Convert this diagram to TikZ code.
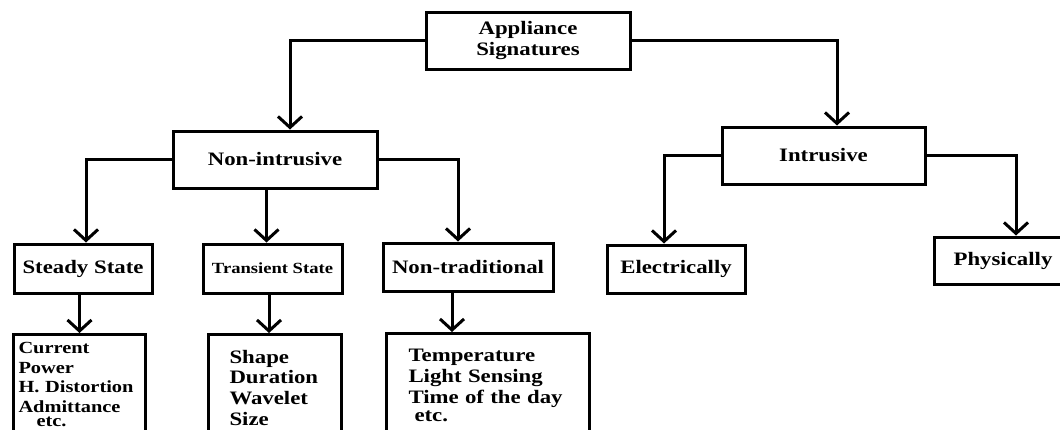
\documentclass[tikz,border=0pt]{standalone}
\usepackage{fontspec}
\setmainfont{Liberation Serif}[FakeStretch=1.2]
\usepackage{tikz}
\usetikzlibrary{arrows.meta}
\usetikzlibrary{positioning, calc}
\tikzstyle{block} = [draw,rectangle,line width=3pt,inner sep=0pt,font=\bfseries\fontsize{19}{21}\selectfont]
\tikzstyle{list} = [block,anchor=north west,align=left]
\tikzstyle{connector} = [-{Straight Barb[length=11pt,width=24pt]},line width=3pt]

\begin{document}
\begin{tikzpicture}[x=1pt,y=-1pt]
  \useasboundingbox (0,0) rectangle (1060,429);
  \fill[white] (0,0) rectangle (1060,429);
  \clip (0,0) rectangle (1060,429);

  \node[block, minimum width=204pt, minimum height=57pt, align=center] (root) at (528,40.5) {Appliance\\Signatures};

  \node[block, minimum width=204pt, minimum height=57pt] (non) at (275,159.5) {Non-intrusive};
  \node[block, minimum width=203pt, minimum height=57pt] (intr) at (823.5,155.5) {Intrusive};

  \node[block, minimum width=138pt, minimum height=49pt] (steady) at (83,268.5) {Steady State};
  \node[block, minimum width=139pt, minimum height=49pt, font=\bfseries\fontsize{15.5}{18}\selectfont] (trans) at (272.5,268.5) {Transient State};
  \node[block, minimum width=170pt, minimum height=48pt] (nontrad) at (468,267) {Non-traditional};
  \node[block, minimum width=138pt, minimum height=48pt] (elec) at (676,269) {Electrically};
  \node[block, minimum width=138pt, minimum height=47pt] (phys) at (1003,260.5) {Physically};

  \node[list, inner xsep=5pt, inner ysep=8pt, text width=122pt, font=\bfseries\fontsize{17}{19.5}\selectfont] (steady1) at (12,333) {
    Current\\Power\\H. Distortion\\Admittance\\[-5pt]\hspace*{18pt}etc.
  };

  \node[list, inner xsep=21pt, inner ysep=15.5pt, text width=91pt, font=\bfseries\fontsize{19}{20.7}\selectfont] (trans1) at (207,333) {
    Shape\\Duration\\Wavelet\\Size
  };

  \node[list, inner xsep=22pt, inner ysep=16pt, text width=159pt, font=\bfseries\fontsize{19}{21}\selectfont] (nontrad1) at (385,332) {
    Temperature\\Light Sensing\\Time of the day\\[-3pt]\hspace*{6pt}etc.
  };

% now link the nodes

\draw [connector] (root.west) -| ([xshift=15pt]non.north);
\draw [connector] (root.east) -| ([xshift=13.5pt]intr.north);
\draw [connector] (non.west) -| ([xshift=3pt]steady.north);
\draw [connector] ($(trans.north |- non.south)+(-6,0)$) -- ($(trans.north)+(-6,0)$);
\draw [connector] (non.east) -| ([xshift=-10pt]nontrad.north);
\draw [connector] (steady1.north |- steady.south) -- (steady1.north);
\draw [connector] ($(trans1.north |- trans.south)+(-6,0)$) -- ($(trans1.north)+(-6,0)$);
\draw [connector] ($(nontrad.south)+(-16,0)$) -- ($(nontrad1.north -| nontrad.south)+(-16,0)$);
\draw [connector] (intr.west) -| ([xshift=-12pt]elec.north);
\draw [connector] (intr.east) -| ([xshift=13pt]phys.north);
\end{tikzpicture}
\end{document}
